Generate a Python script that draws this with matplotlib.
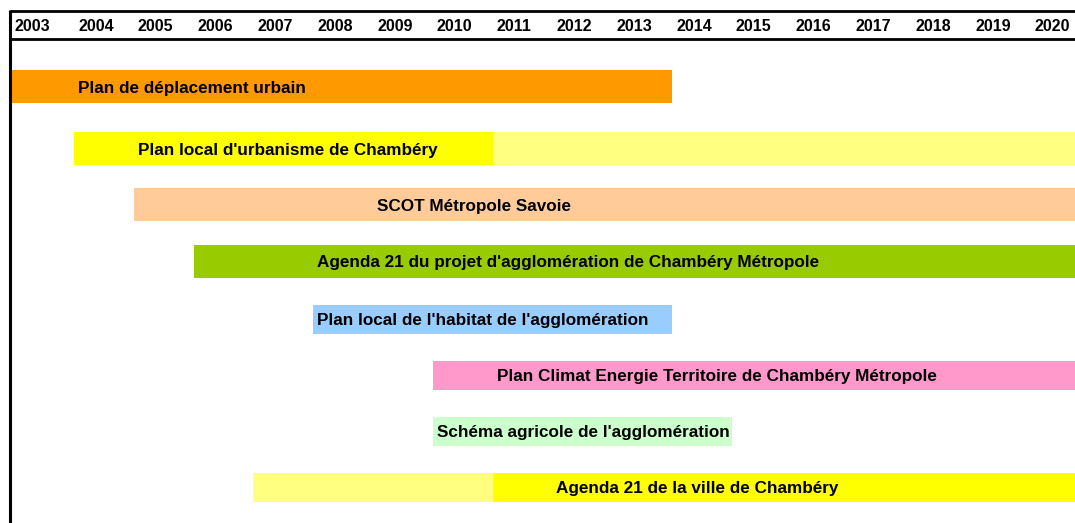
import matplotlib
matplotlib.use("Agg")
import matplotlib.pyplot as plt

# ---- data ----
years = list(range(2003, 2021))
labels = [
    "Plan de déplacement urbain",
    "Plan local d'urbanisme de Chambéry",
    "SCOT Métropole Savoie",
    "Agenda 21 du projet d'agglomération de Chambéry Métropole",
    "Plan local de l'habitat de l'agglomération",
    "Plan Climat Energie Territoire de Chambéry Métropole",
    "Schéma agricole de l'agglomération",
    "Agenda 21 de la ville de Chambéry",
]
# segments per row: (start year, end year, colour)
segments = [
    [(2003, 2014, "#FF9900")],
    [(2004, 2011, "#FFFF00"), (2011, 2021, "#FFFF80")],
    [(2005, 2021, "#FFCC99")],
    [(2006, 2021, "#99CC00")],
    [(2008, 2014, "#99CCFF")],
    [(2010, 2021, "#FF99CC")],
    [(2010, 2015, "#CCFFCC")],
    [(2007, 2011, "#FFFF80"), (2011, 2021, "#FFFF00")],
]
label_year = [2004, 2005, 2009, 2008, 2008, 2011, 2010, 2012]

# ---- layout ----
W, H = 1075, 523
col_px = 59.8
x0_px = 74.0  # pixel where the 2004 column starts


def px2x(p):
    return 2004 + (p - x0_px) / col_px


left_edge = px2x(9.5)
row_centers = [86.5, 148.5, 204.5, 261, 319, 375, 431, 487]
row_heights = [33, 33, 33, 33, 29, 29, 29, 29]

fig = plt.figure(figsize=(W / 100, H / 100), dpi=100)
ax = fig.add_axes([0, 0, 1, 1])
ax.set_xlim(px2x(0), px2x(W))
ax.set_ylim(H, 0)
ax.axis("off")

year_font = dict(family="Liberation Sans", weight="bold", size=11.5, color="black")
bar_font = dict(family="Liberation Sans", weight="bold", size=12.3, color="black")

# header
ax.plot([left_edge, px2x(W)], [11, 11], color="black", lw=2, solid_capstyle="butt")
ax.plot([left_edge, px2x(W)], [39, 39], color="black", lw=2, solid_capstyle="butt")
ax.plot([left_edge, left_edge], [10, H], color="black", lw=2.2, solid_capstyle="butt")
for i, y in enumerate(years):
    xs = px2x(14) if i == 0 else y + 4 / col_px
    ax.text(xs, 26.5, str(y), ha="left", va="center", **year_font)

# bars
for i, segs in enumerate(segments):
    for (s, e, c) in segs:
        s_ = left_edge if s == years[0] else s
        ax.barh(row_centers[i], e - s_, left=s_, height=row_heights[i],
                color=c, edgecolor="none", zorder=1)
    ax.text(label_year[i] + 4 / col_px, row_centers[i] + 1.5, labels[i],
            ha="left", va="center", zorder=3, **bar_font)

fig.savefig("out.png", dpi=100)
